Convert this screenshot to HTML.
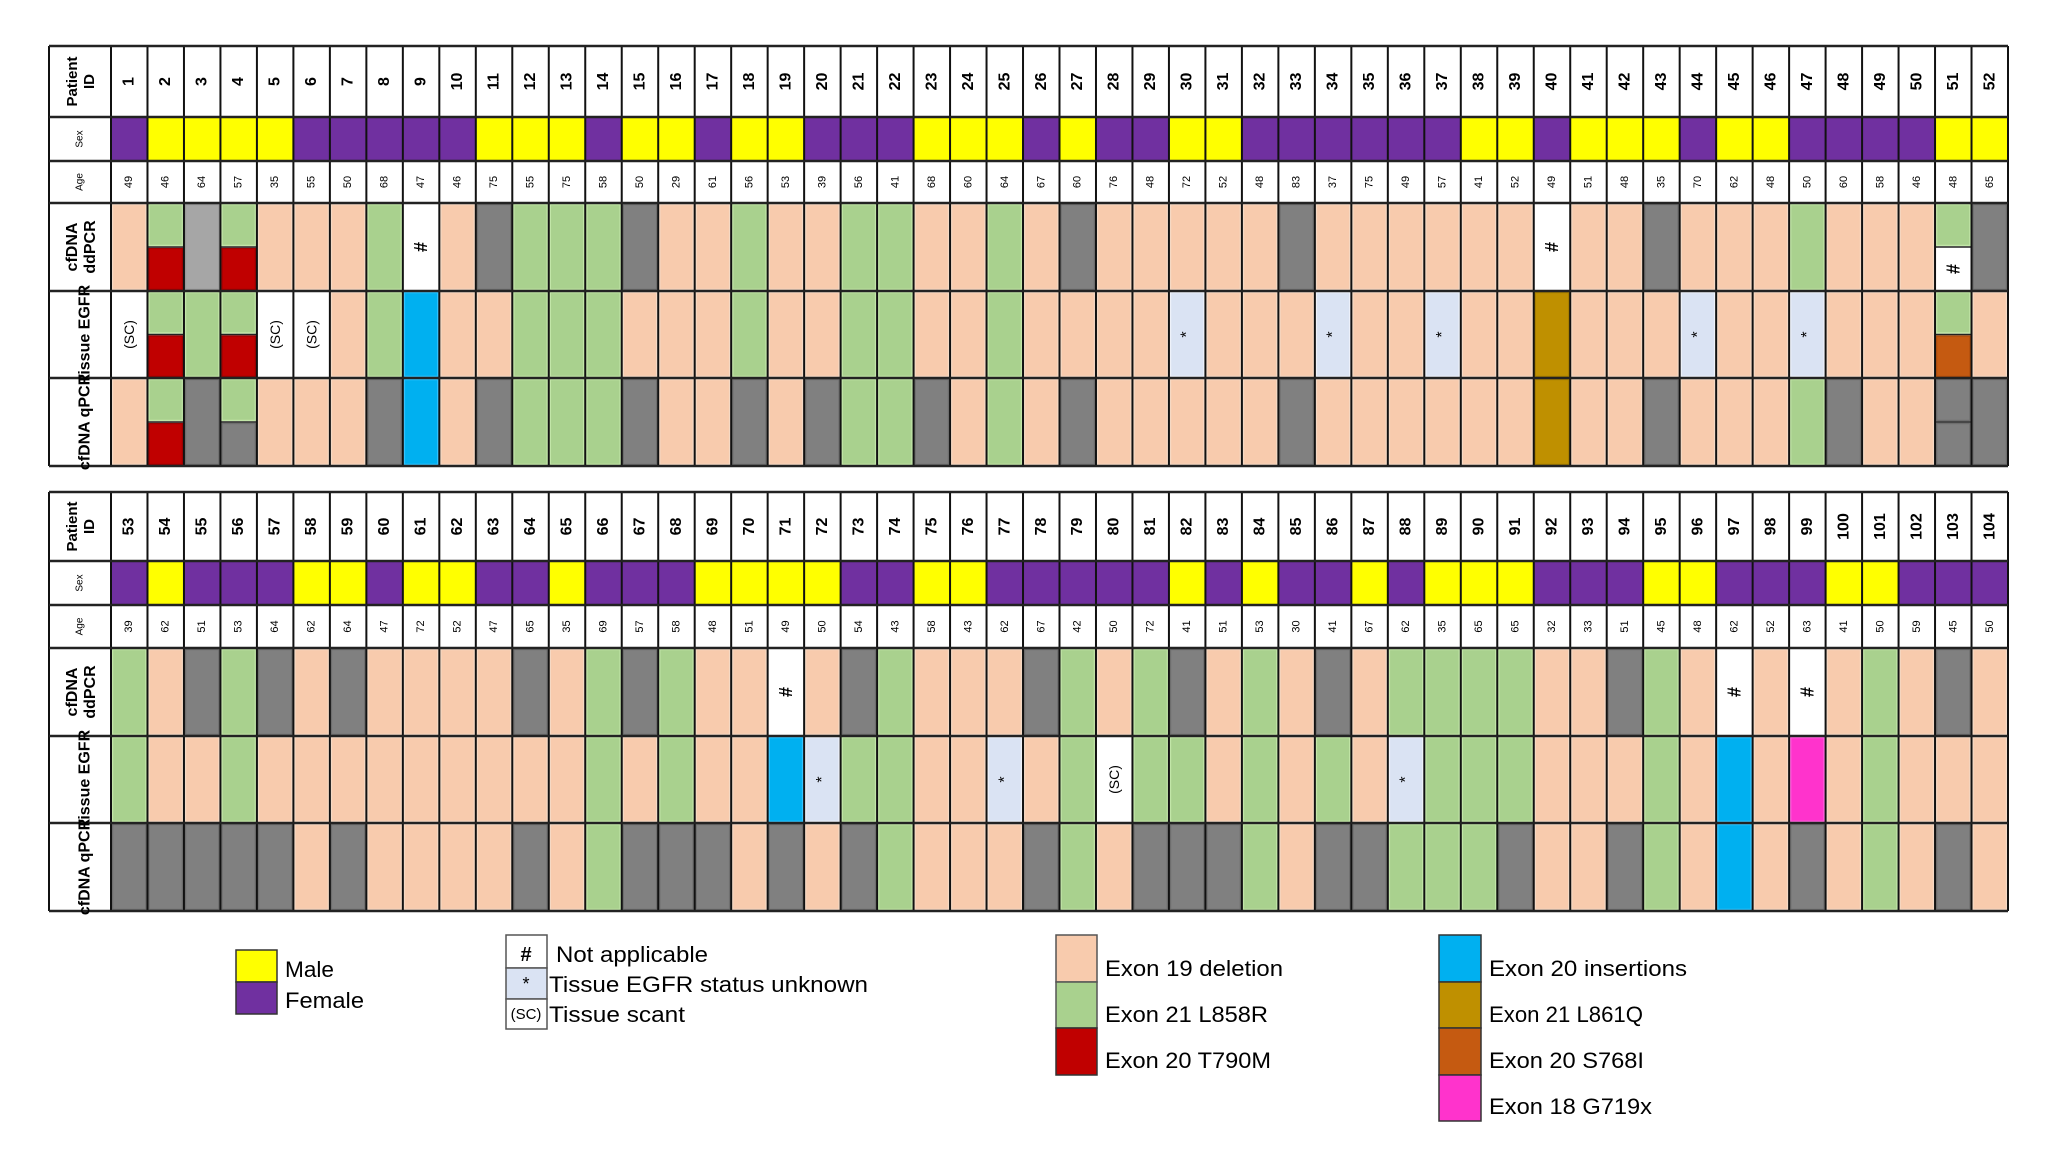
<!DOCTYPE html>
<html><head><meta charset="utf-8">
<style>
html,body{margin:0;padding:0;background:#fff;}
svg{display:block;font-family:"Liberation Sans",sans-serif;}
</style></head>
<body>
<svg id="chart" width="2056" height="1157" viewBox="0 0 2056 1157" xmlns="http://www.w3.org/2000/svg">
<g id="tables"></g>
<g id="legend">
  <rect x="236" y="950" width="41" height="32" fill="#FFFF00" stroke="#333" stroke-width="1.5"/>
  <rect x="236" y="982" width="41" height="32" fill="#7030A0" stroke="#333" stroke-width="1.5"/>
  <text x="285" y="977" font-size="22" textLength="49" lengthAdjust="spacingAndGlyphs">Male</text>
  <text x="285" y="1008" font-size="22" textLength="79" lengthAdjust="spacingAndGlyphs">Female</text>

  <rect x="506" y="935" width="41" height="33" fill="#fff" stroke="#555" stroke-width="1.5"/>
  <rect x="506" y="968" width="41" height="31" fill="#DAE3F3" stroke="#555" stroke-width="1.5"/>
  <rect x="506" y="999" width="41" height="30" fill="#fff" stroke="#555" stroke-width="1.5"/>
  <text x="526" y="961" font-size="20" text-anchor="middle" font-weight="bold">#</text>
  <text x="526" y="990" font-size="18" text-anchor="middle">*</text>
  <text x="526" y="1019" font-size="15" text-anchor="middle">(SC)</text>
  <text x="556" y="962" font-size="22" textLength="152" lengthAdjust="spacingAndGlyphs">Not applicable</text>
  <text x="549" y="992" font-size="22" textLength="319" lengthAdjust="spacingAndGlyphs">Tissue EGFR status unknown</text>
  <text x="549" y="1022" font-size="22" textLength="136" lengthAdjust="spacingAndGlyphs">Tissue scant</text>

  <rect x="1056" y="935" width="41" height="47" fill="#F8CBAD" stroke="#555" stroke-width="1.5"/>
  <rect x="1056" y="982" width="41" height="46" fill="#A9D18E" stroke="#555" stroke-width="1.5"/>
  <rect x="1056" y="1028" width="41" height="47" fill="#C00000" stroke="#333" stroke-width="1.5"/>
  <text x="1105" y="976" font-size="22" textLength="178" lengthAdjust="spacingAndGlyphs">Exon 19 deletion</text>
  <text x="1105" y="1022" font-size="22" textLength="163" lengthAdjust="spacingAndGlyphs">Exon 21 L858R</text>
  <text x="1105" y="1068" font-size="22" textLength="166" lengthAdjust="spacingAndGlyphs">Exon 20 T790M</text>

  <rect x="1439" y="935" width="42" height="47" fill="#00B0F0" stroke="#333" stroke-width="1.5"/>
  <rect x="1439" y="982" width="42" height="46" fill="#BF9000" stroke="#333" stroke-width="1.5"/>
  <rect x="1439" y="1028" width="42" height="47" fill="#C55A11" stroke="#333" stroke-width="1.5"/>
  <rect x="1439" y="1075" width="42" height="46" fill="#FF33CC" stroke="#333" stroke-width="1.5"/>
  <text x="1489" y="976" font-size="22" textLength="198" lengthAdjust="spacingAndGlyphs">Exon 20 insertions</text>
  <text x="1489" y="1022" font-size="22" textLength="154" lengthAdjust="spacingAndGlyphs">Exon 21 L861Q</text>
  <text x="1489" y="1068" font-size="22" textLength="155" lengthAdjust="spacingAndGlyphs">Exon 20 S768I</text>
  <text x="1489" y="1114" font-size="22" textLength="163" lengthAdjust="spacingAndGlyphs">Exon 18 G719x</text>
</g>
</svg>
<script>
// Data: sex (M/F), age, and result codes per assay
// Codes: P exon19, G L858R, R T790M, N negative(grey), L light grey, B ins20, O L861Q, S S768I, M G719x, H not applicable(#), U unknown(*), C scant(SC); "X/Y" = split cell
const sexTop = "FMMMMFFFFFMMMFMMFMMFFFMMMFMFFMMFFFFFFMMFMMMFMMFFFFMM".split("");
const ageTop = [49,46,64,57,35,55,50,68,47,46,75,55,75,58,50,29,61,56,53,39,56,41,68,60,64,67,60,76,48,72,52,48,83,37,75,49,57,41,52,49,51,48,35,70,62,48,50,60,58,46,48,65];
const ddTop = ["P","G/R","L","G/R","P","P","P","G","H","P","N","G","G","G","N","P","P","G","P","P","G","G","P","P","G","P","N","P","P","P","P","P","N","P","P","P","P","P","P","H","P","P","N","P","P","P","G","P","P","P","G/H","N"];
const tiTop = ["C","G/R","G","G/R","C","C","P","G","B","P","P","G","G","G","P","P","P","G","P","P","G","G","P","P","G","P","P","P","P","U","P","P","P","U","P","P","U","P","P","O","P","P","P","U","P","P","U","P","P","P","G/S","P"];
const qpTop = ["P","G/R","N","G/N","P","P","P","N","B","P","N","G","G","G","N","P","P","N","P","N","G","G","N","P","G","P","N","P","P","P","P","P","N","P","P","P","P","P","P","O","P","P","N","P","P","P","G","N","P","P","N/N","N"];

const sexBot = "FMFFFMMFMMFFMFFFMMMMFFMMFFFFFMFMFFMFMMMFFFMMFFFMMFFF".split("");
const ageBot = [39,62,51,53,64,62,64,47,72,52,47,65,35,69,57,58,48,51,49,50,54,43,58,43,62,67,42,50,72,41,51,53,30,41,67,62,35,65,65,32,33,51,45,48,62,52,63,41,50,59,45,50];
const ddBot = ["G","P","N","G","N","P","N","P","P","P","P","N","P","G","N","G","P","P","H","P","N","G","P","P","P","N","G","P","G","N","P","G","P","N","P","G","G","G","G","P","P","N","G","P","H","P","H","P","G","P","N","P"];
const tiBot = ["G","P","P","G","P","P","P","P","P","P","P","P","P","G","P","G","P","P","B","U","G","G","P","P","U","P","G","C","G","G","P","G","P","G","P","U","G","G","G","P","P","P","G","P","B","P","M","P","G","P","P","P"];
const qpBot = ["N","N","N","N","N","P","N","P","P","P","P","N","P","G","N","N","N","P","N","P","N","G","P","P","P","N","G","P","N","N","N","G","P","N","N","G","G","G","N","P","P","N","G","P","B","P","N","P","G","P","N","P"];

const COL = {P:"#F8CBAD",G:"#A9D18E",R:"#C00000",N:"#808080",L:"#A6A6A6",B:"#00B0F0",O:"#BF9000",S:"#C55A11",M:"#FF33CC",H:"#FFFFFF",U:"#DAE3F3",C:"#FFFFFF"};
const EDGE = {P:"#f5d9c4",G:"#c2e6a8",R:"#a00000",N:"#6e6e6e",L:"#999",B:"#33c4ff",O:"#a87f00",S:"#b04e0e",M:"#ff66dd",H:"#fff",U:"#eef2fa",C:"#fff"};
const NS = "http://www.w3.org/2000/svg";
const root = document.getElementById("tables");

function mk(tag, attrs, parent){
  const e = document.createElementNS(NS, tag);
  for (const k in attrs) e.setAttribute(k, attrs[k]);
  (parent||root).appendChild(e);
  return e;
}

const X0 = 49, XL = 111, X1 = 2008, NC = 52;
const cw = (X1 - XL) / NC;
function colX(i){ return XL + i * cw; }

function rotText(parent, cx, cy, str, size, bold, name){
  const t = mk("text", {x:cx, y:cy, "font-size":size, "text-anchor":"middle", "dominant-baseline":"central",
    transform:"rotate(-90 "+cx+" "+cy+")", "font-weight": bold?"bold":"normal"}, parent);
  t.textContent = str;
  if (name){   }
  return t;
}

function cell(g, x, y, w, h, code, name){
  const r = mk("rect", {x:x+1.5, y:y+1.5, width:w-3, height:h-3, fill:COL[code], stroke:EDGE[code], "stroke-width":1.5}, g);
  
  
  const cx = x + w/2, cy = y + h/2;
  if (code === "H") rotText(g, cx, cy, "#", 18, true);
  if (code === "U") rotText(g, cx, cy, "*", 16, false);
  if (code === "C") rotText(g, cx, cy, "(SC)", 14, false);
}

function drawTable(rows, first, sex, age, dd, ti, qp, tname){
  const g = mk("g", {});
  
  
  const [y0,y1,y2,y3,y4,y5,y6] = rows;
  for (let i = 0; i < NC; i++){
    const x = colX(i);
    rotText(g, x + cw/2, (y0+y1)/2, String(first+i), 16, true, "patient-id-"+(first+i));
    const s = mk("rect", {x:x, y:y1, width:cw, height:y2-y1, fill: sex[i]==="M" ? "#FFFF00" : "#7030A0"}, g);
    
    
    rotText(g, x + cw/2, (y2+y3)/2, String(age[i]), 11, false, "age-"+(first+i));
    [[dd,y3,y4,"ddpcr"],[ti,y4,y5,"tissue"],[qp,y5,y6,"qpcr"]].forEach(([arr,ya,yb,lab])=>{
      const v = arr[i];
      if (v.indexOf("/") >= 0){
        const [a,b] = v.split("/");
        const hm = (ya+yb)/2;
        cell(g, x, ya, cw, hm-ya, a, lab+"-cell-"+(first+i)+"-top");
        cell(g, x, hm, cw, yb-hm, b, lab+"-cell-"+(first+i)+"-bottom");
        mk("line", {x1:x, x2:x+cw, y1:hm, y2:hm, stroke:"#222", "stroke-width":1.5}, g);
      } else {
        cell(g, x, ya, cw, yb-ya, v, lab+"-cell-"+(first+i));
      }
    });
  }
  for (let i = 0; i <= NC; i++){
    mk("line", {x1:colX(i), x2:colX(i), y1:y0, y2:y6, stroke:"#111", "stroke-width":2}, g);
  }
  mk("line", {x1:X0, x2:X0, y1:y0, y2:y6, stroke:"#111", "stroke-width":2}, g);
  rows.forEach(y => mk("line", {x1:X0, x2:X1, y1:y, y2:y, stroke:"#222", "stroke-width": 2.5}, g));
  const lx = (X0+XL)/2;
  const t1 = mk("text", {"font-size":15, "font-weight":"bold", "text-anchor":"middle", transform:"translate("+lx+","+((y0+y1)/2)+") rotate(-90)"}, g);
  
  
  t1.innerHTML = '<tspan x="0" y="-3">Patient</tspan><tspan x="0" y="14">ID</tspan>';
  rotText(g, lx, (y1+y2)/2, "Sex", 10, false, "row-label-sex");
  rotText(g, lx, (y2+y3)/2, "Age", 10, false, "row-label-age");
  const t2 = mk("text", {"font-size":16, "font-weight":"bold", "text-anchor":"middle", transform:"translate("+lx+","+((y3+y4)/2)+") rotate(-90)"}, g);
  
  
  t2.innerHTML = '<tspan x="0" y="-3">cfDNA</tspan><tspan x="0" y="15">ddPCR</tspan>';
  rotText(g, lx+5, (y4+y5)/2, "Tissue EGFR", 16, true, "row-label-tissue-egfr");
  rotText(g, lx+5, (y5+y6)/2, "cfDNA qPCR", 16, true, "row-label-cfdna-qpcr");
}

drawTable([46,117,161,203,291,378,466], 1, sexTop, ageTop, ddTop, tiTop, qpTop, "table-patients-1-52");
drawTable([492,561,605,648,736,823,911], 53, sexBot, ageBot, ddBot, tiBot, qpBot, "table-patients-53-104");
</script>
</body></html>
